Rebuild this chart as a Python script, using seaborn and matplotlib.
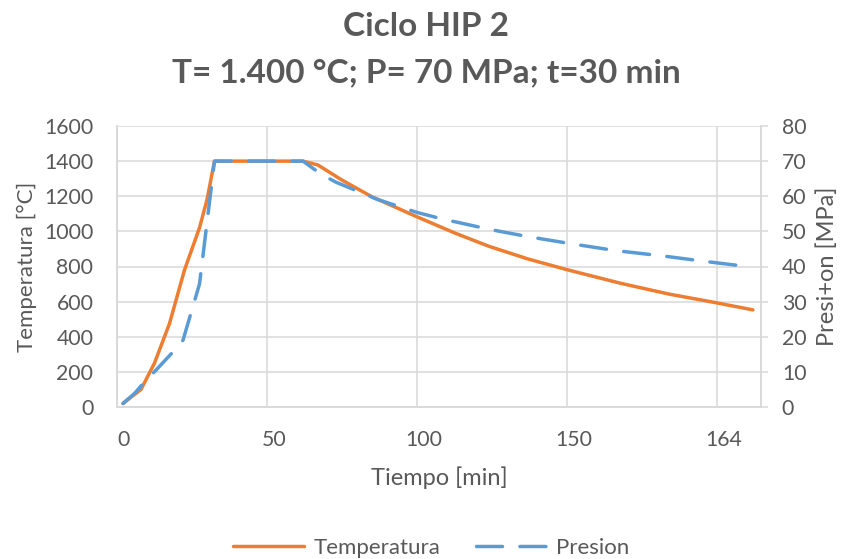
import matplotlib
matplotlib.use("Agg")
import matplotlib.pyplot as plt
import matplotlib.transforms as mtransforms
from matplotlib.lines import Line2D
import seaborn as sns
import pandas as pd

# ---- data ----
temp_x = [2, 8, 12.5, 17.5, 22.5, 27.5, 30, 32.5, 62, 67, 75, 85, 100, 113, 124, 137,
          150, 168, 184, 199, 212]
temp_y = [20, 100, 250, 475, 780, 1020, 1180, 1400, 1400, 1378, 1292, 1197, 1083, 988,
          915, 843, 782, 704, 643, 596, 553]
pres_x = [2, 6, 9, 13, 19, 22, 27.5, 30.5, 32.5, 62, 68, 73, 81.5, 86.5, 95, 100, 109,
          114, 124, 137, 152, 166.5, 182, 196.5, 211]
pres_y = [1, 4, 7, 10.5, 16, 19, 35, 56, 70, 70, 66.3, 64, 61, 59.2, 56.8, 55.4, 53.4,
          52.5, 50.6, 48.5, 46.4, 44.5, 43, 41.4, 39.9]
x_ticks = [0, 50, 100, 150, 200]
x_tick_labels = ["0", "50", "100", "150", "164"]
temp_ticks = list(range(0, 1601, 200))
pres_ticks = list(range(0, 81, 10))
title_1 = "Ciclo HIP 2"
title_2 = "T= 1.400 °C; P= 70 MPa; t=30 min"

df_t = pd.DataFrame({"x": temp_x, "y": temp_y})
df_p = pd.DataFrame({"x": pres_x, "y": pres_y})

sns.set_style("white")
plt.rcParams["font.family"] = ["Lato", "DejaVu Sans"]

ORANGE = "#ED7D31"
BLUE = "#5B9BD5"
GRID = "#D9D9D9"
TXT = "#595959"
LW = 2.5
DASH = (7.5, 5.0)

fig = plt.figure(figsize=(8.44, 5.59), dpi=100)
ax = fig.add_axes([117/844, 1-407/559, (761-117)/844, (407-126)/559])
ax2 = ax.twinx()

sns.lineplot(data=df_t, x="x", y="y", ax=ax, color=ORANGE, lw=LW, estimator=None, sort=False)
sns.lineplot(data=df_p, x="x", y="y", ax=ax2, color=BLUE, lw=LW, estimator=None, sort=False)
for ln in ax.lines + ax2.lines:
    ln.set_solid_joinstyle("round")
    ln.set_solid_capstyle("round")
pl = ax2.lines[0]
pl.set_dashes(DASH)
pl.set_dash_capstyle("round")

ax.set_xlim(0, 214.7)
ax.set_ylim(0, 1600)
ax2.set_ylim(0, 80)
ax.set_xticks(x_ticks)
ax.set_xticklabels(x_tick_labels)
ax.set_yticks(temp_ticks)
ax2.set_yticks(pres_ticks)

ax.grid(True, color=GRID, lw=1.1)
ax.set_axisbelow(True)
for a in (ax, ax2):
    for s in a.spines.values():
        s.set_color(GRID)
        s.set_linewidth(1.1)
    a.spines["top"].set_visible(False)

ax.tick_params(axis="x", length=0, pad=16.5, labelsize=15.3, labelcolor=TXT)
ax.tick_params(axis="y", length=0, pad=17, labelsize=15.3, labelcolor=TXT)
ax2.tick_params(axis="y", length=5, width=1.1, color=GRID, pad=10, labelsize=15.3, labelcolor=TXT)

offset = mtransforms.ScaledTranslation(7/100, 0, fig.dpi_scale_trans)
for lab in ax.get_xticklabels():
    lab.set_transform(lab.get_transform() + offset)

ax.set_xlabel("Tiempo [min]", fontsize=17, color=TXT, labelpad=12)
ax.set_ylabel("Temperatura [°C]", fontsize=16, color=TXT, labelpad=5)
ax2.set_ylabel("Presi+on [MPa]", fontsize=17, color=TXT, labelpad=7)

fig.text(426/844, 1-27/559, title_1, ha="center", va="center", fontsize=24,
         fontweight="bold", color=TXT)
fig.text(426/844, 1-73/559, title_2, ha="center", va="center", fontsize=24,
         fontweight="bold", color=TXT)

handles = [Line2D([], [], color=ORANGE, lw=LW),
           Line2D([], [], color=BLUE, lw=LW, dashes=DASH, dash_capstyle="round")]
fig.legend(handles, ["Temperatura", "Presion"], loc="center",
           bbox_to_anchor=(431/844, 1-548/559), ncol=2, frameon=False,
           fontsize=16, labelcolor=TXT, handlelength=3.2, columnspacing=1.6,
           handletextpad=0.4)

fig.savefig("out.png", dpi=100)
